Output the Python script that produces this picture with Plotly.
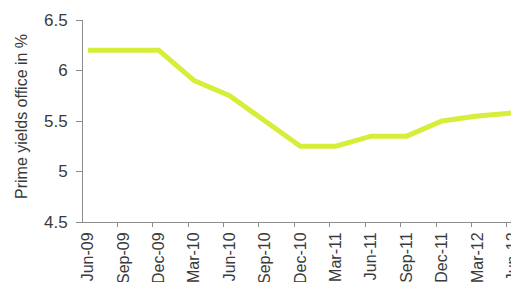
import plotly.graph_objects as go

categories = ["Jun-09", "Sep-09", "Dec-09", "Mar-10", "Jun-10", "Sep-10", "Dec-10",
              "Mar-11", "Jun-11", "Sep-11", "Dec-11", "Mar-12", "Jun-12"]
yields = [6.2, 6.2, 6.2, 5.9, 5.75, 5.5, 5.25, 5.25, 5.35, 5.35, 5.5, 5.55, 5.58]
y_ticks = [4.5, 5, 5.5, 6, 6.5]
y_tick_text = ["4.5", "5", "5.5", "6", "6.5"]
y_title = "Prime yields office in %"

idx = list(range(len(categories)))

fig = go.Figure()
fig.add_trace(go.Scatter(
    x=idx, y=yields, mode="lines",
    line=dict(color="#d6ed3a", width=5),
    hoverinfo="skip", showlegend=False,
))

axis_color = "#8c8c8c"
fig.update_layout(
    width=519, height=282,
    margin=dict(l=75, r=0, t=12, b=68),
    paper_bgcolor="white", plot_bgcolor="white",
    font=dict(family="Liberation Sans, Arial, sans-serif", size=16, color="#3a3a3a"),
    xaxis=dict(
        range=[-0.14, 12.40],
        tickvals=idx, ticktext=categories, tickangle=-90,
        ticks="", showgrid=False, zeroline=False,
        showline=True, linecolor=axis_color, linewidth=1,
        tickfont=dict(size=16),
        ticklabeloverflow="allow",
        ticklabelstandoff=3,
        automargin=False,
        minor=dict(ticks="outside", tick0=-0.17, dtick=1, ticklen=4,
                   tickcolor=axis_color, showgrid=False),
    ),
    yaxis=dict(
        range=[4.5, 6.5],
        tickvals=y_ticks, ticktext=y_tick_text,
        ticks="outside", ticklen=6, tickcolor=axis_color,
        ticklabelstandoff=5,
        showgrid=False, zeroline=False,
        showline=True, linecolor=axis_color, linewidth=1,
        automargin=False,
        tickfont=dict(size=17),
    ),
    annotations=[dict(
        text=y_title, textangle=-90, showarrow=False,
        xref="paper", yref="paper", x=0, y=0.5,
        xanchor="center", yanchor="middle",
        xshift=-62, yshift=4,
        font=dict(size=16, color="#3a3a3a"),
    )],
)

fig.write_html("out.html")
